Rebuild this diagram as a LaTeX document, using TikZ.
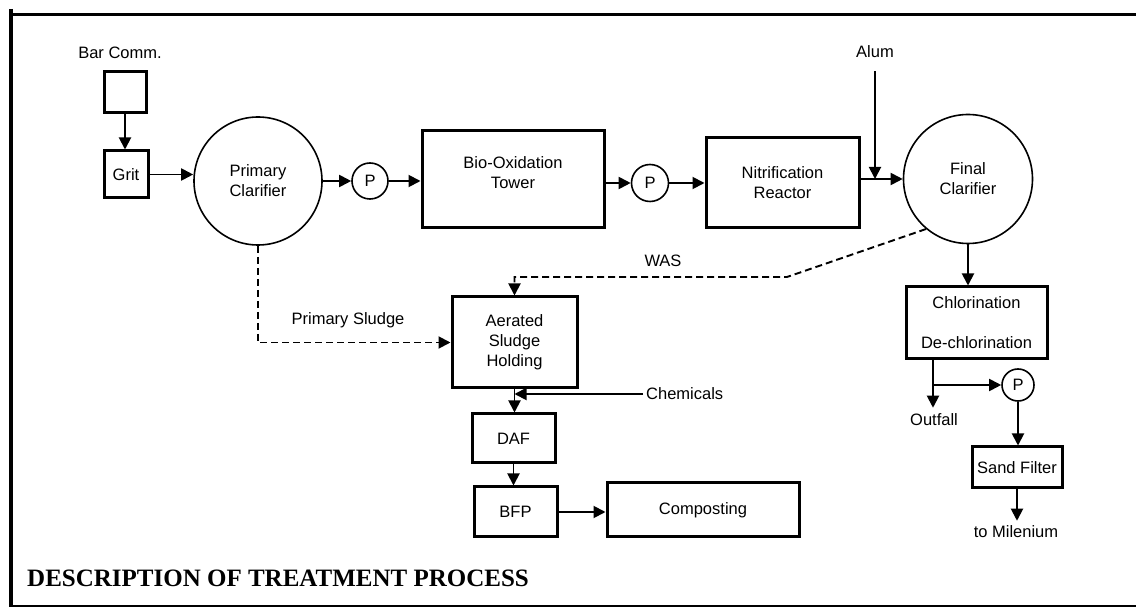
\documentclass[tikz,border=0pt]{standalone}
\usepackage{fontspec}
\setmainfont{Liberation Sans}
\newfontfamily\titleserif{Liberation Serif}
\usetikzlibrary{arrows.meta}
\tikzset{
  lbl/.style={font=\fontsize{16.5}{20}\selectfont, inner sep=0pt, align=center},
  box/.style={draw, line width=3pt, font=\fontsize{16.5}{20}\selectfont, align=center, inner sep=0pt},
  tank/.style={draw, circle, line width=1.6pt, font=\fontsize{16.5}{20}\selectfont, align=center, inner sep=0pt},
  pump/.style={draw, circle, line width=1.6pt, font=\fontsize{16.5}{20}\selectfont, inner sep=0pt},
  flow/.style={line width=1.9pt, -{Triangle[length=12pt,width=12pt]}},
  sludge/.style={flow, dash pattern=on 7pt off 4pt}
}
\begin{document}
\begin{tikzpicture}[x=1pt,y=-1pt]
\useasboundingbox (0,0) rectangle (1136,609);
% frame
\draw[line width=4pt] (11,9) -- (11,607);
\draw[line width=3pt] (9,15) -- (1136,15);
\draw[line width=1.5pt] (11,606) -- (1136,606);

% nodes
\node[lbl] (barlbl) at (120,53) {Bar Comm.};
\node[box, minimum width=42pt, minimum height=41pt] (bar) at (125,92.5) {};
\node[box, minimum width=44pt, minimum height=47pt] (grit) at (126,174.5) {Grit};
\node[tank, minimum size=128pt] (pc) at (258,181) {Primary\\Clarifier};
\node[pump, minimum size=36pt] (p1) at (370,181) {P};
\node[box, minimum width=182pt, minimum height=97pt] (bio) at (513,179) {};
\node[lbl] (biotxt) at (513,173) {Bio-Oxidation\\Tower};
\node[pump, minimum size=37pt] (p2) at (650,183) {P};
\node[box, minimum width=153pt, minimum height=90pt] (nit) at (782.5,183) {Nitrification\\Reactor};
\node[lbl] (alum) at (875,52) {Alum};
\node[tank, minimum size=129pt] (fc) at (968,179) {Final\\Clarifier};
\node[box, minimum width=141pt, minimum height=72pt] (chl) at (976.5,323) {Chlorination\\[20pt]De-chlorination};
\node[pump, minimum size=32pt] (p3) at (1018,385) {P};
\node[lbl] (outfall) at (934,420) {Outfall};
\node[box, minimum width=90pt, minimum height=41pt] (sand) at (1017,467.5) {Sand Filter};
\node[lbl] (mil) at (1016,532) {to Milenium};
\node[box, minimum width=125pt, minimum height=91pt] (ash) at (514.5,342.5) {Aerated\\Sludge\\Holding};
\node[lbl] (pslbl) at (348,320) {Primary Sludge};
\node[lbl] (waslbl) at (663,261) {WAS};
\node[lbl, anchor=west] (chem) at (646,394) {Chemicals};
\node[box, minimum width=83pt, minimum height=49pt] (daf) at (513.5,438.5) {DAF};
\node[box, minimum width=83pt, minimum height=50pt] (bfp) at (515.5,512) {BFP};
\node[box, minimum width=192pt, minimum height=54pt] (comp) at (703,510) {Composting};
\node[anchor=west, inner sep=0pt, font=\titleserif\bfseries\fontsize{25}{30}\selectfont] (title) at (27,578) {DESCRIPTION OF TREATMENT PROCESS};

\coordinate (chlout) at (933,359);
\coordinate (br) at (933,385);
\coordinate (wasbend) at (787,277);

% connectors
\draw[flow] (bar.south) -- (bar.south |- grit.north);
\draw[flow] (grit.east) -- (grit.east -| pc.west);
\draw[flow] (pc) -- (p1);
\draw[flow] (p1.east) -- (p1.east -| bio.west);
\draw[flow] (bio.east |- p2) -- (p2);
\draw[flow] (p2.east) -- (p2.east -| nit.west);
\draw[flow] (nit.east |- fc) -- (fc.west);
\draw[flow, shorten <=13pt] (alum.south) -- (alum.south |- fc.west);
\draw[flow] (fc.south) -- (fc.south |- chl.north);
\draw[flow, shorten >=6pt] (chlout) -- (chlout |- outfall.north);
\draw[flow] (br) -- (p3.west);
\draw[flow] (p3.south) -- (p3.south |- sand.north);
\draw[flow, shorten >=5pt] (sand.south) -- (sand.south |- mil.north);
\draw[sludge] (pc.south) |- (ash.west);
\draw[sludge] (fc.230) -- (wasbend) -| (ash.north);
\draw[flow] (ash.south) -- (ash.south |- daf.north);
\draw[flow] ([xshift=-3pt]chem.west) -- (ash.south |- chem.west);
\draw[flow] (daf.south) -- (daf.south |- bfp.north);
\draw[flow] (bfp.east) -- (bfp.east -| comp.west);
\end{tikzpicture}
\end{document}
